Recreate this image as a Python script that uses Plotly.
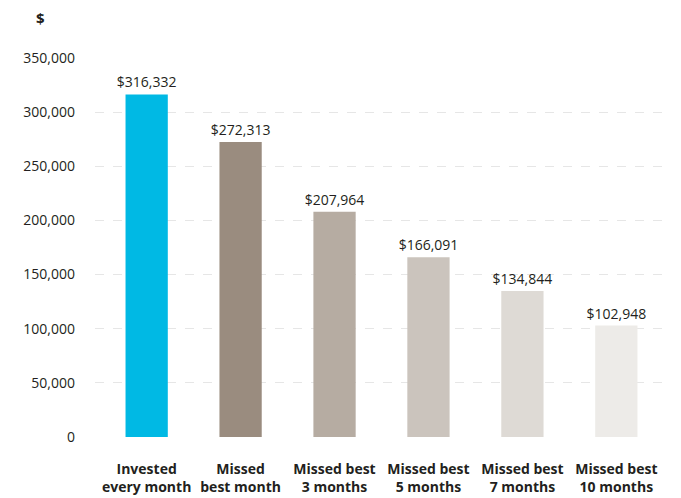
import plotly.graph_objects as go

categories = ["Invested<br>every month", "Missed<br>best month", "Missed best<br>3 months",
              "Missed best<br>5 months", "Missed best<br>7 months", "Missed best<br>10 months"]
values = [316332, 272313, 207964, 166091, 134844, 102948]
colors = ["#00B9E4", "#9A8C7F", "#B6ACA2", "#CBC4BD", "#DEDAD5", "#EDEBE8"]
tick_vals = [0, 50000, 100000, 150000, 200000, 250000, 300000, 350000]

fig = go.Figure(go.Bar(
    x=categories, y=values, marker=dict(color=colors, line=dict(width=0)),
    text=[f"${v:,}" for v in values], textposition="outside", constraintext="none",
    textfont=dict(family="Open Sans", size=14, color="#231F20"),
    cliponaxis=False, width=0.45,
))

fig.update_layout(
    width=681, height=498,
    margin=dict(l=95, r=13, t=58, b=61),
    plot_bgcolor="white", paper_bgcolor="white",
    showlegend=False,
    font=dict(family="Open Sans", size=14, color="#231F20"),
    xaxis=dict(range=[-0.55, 5.55], showgrid=False, showline=False, ticks="",
               automargin=False,
               tickfont=dict(family="Open Sans", size=14, color="#231F20", weight="bold"),
               ticklabelstandoff=22),
    yaxis=dict(range=[0, 350000], tickvals=tick_vals, tickformat=",",
               showgrid=True, gridcolor="#E6E6E6", griddash="dash", gridwidth=1,
               zeroline=False, showline=False, ticks="", ticklabelstandoff=19,
               automargin=False,
               tickfont=dict(family="Open Sans", size=14, color="#231F20")),
    annotations=[dict(text="<b>$</b>", xref="paper", yref="paper",
                      x=(40 - 95) / 573, y=(437 - 18) / 379,
                      xanchor="center", yanchor="middle", showarrow=False,
                      font=dict(family="Open Sans", size=15, color="#231F20"))],
)

fig.write_html("out.html")
